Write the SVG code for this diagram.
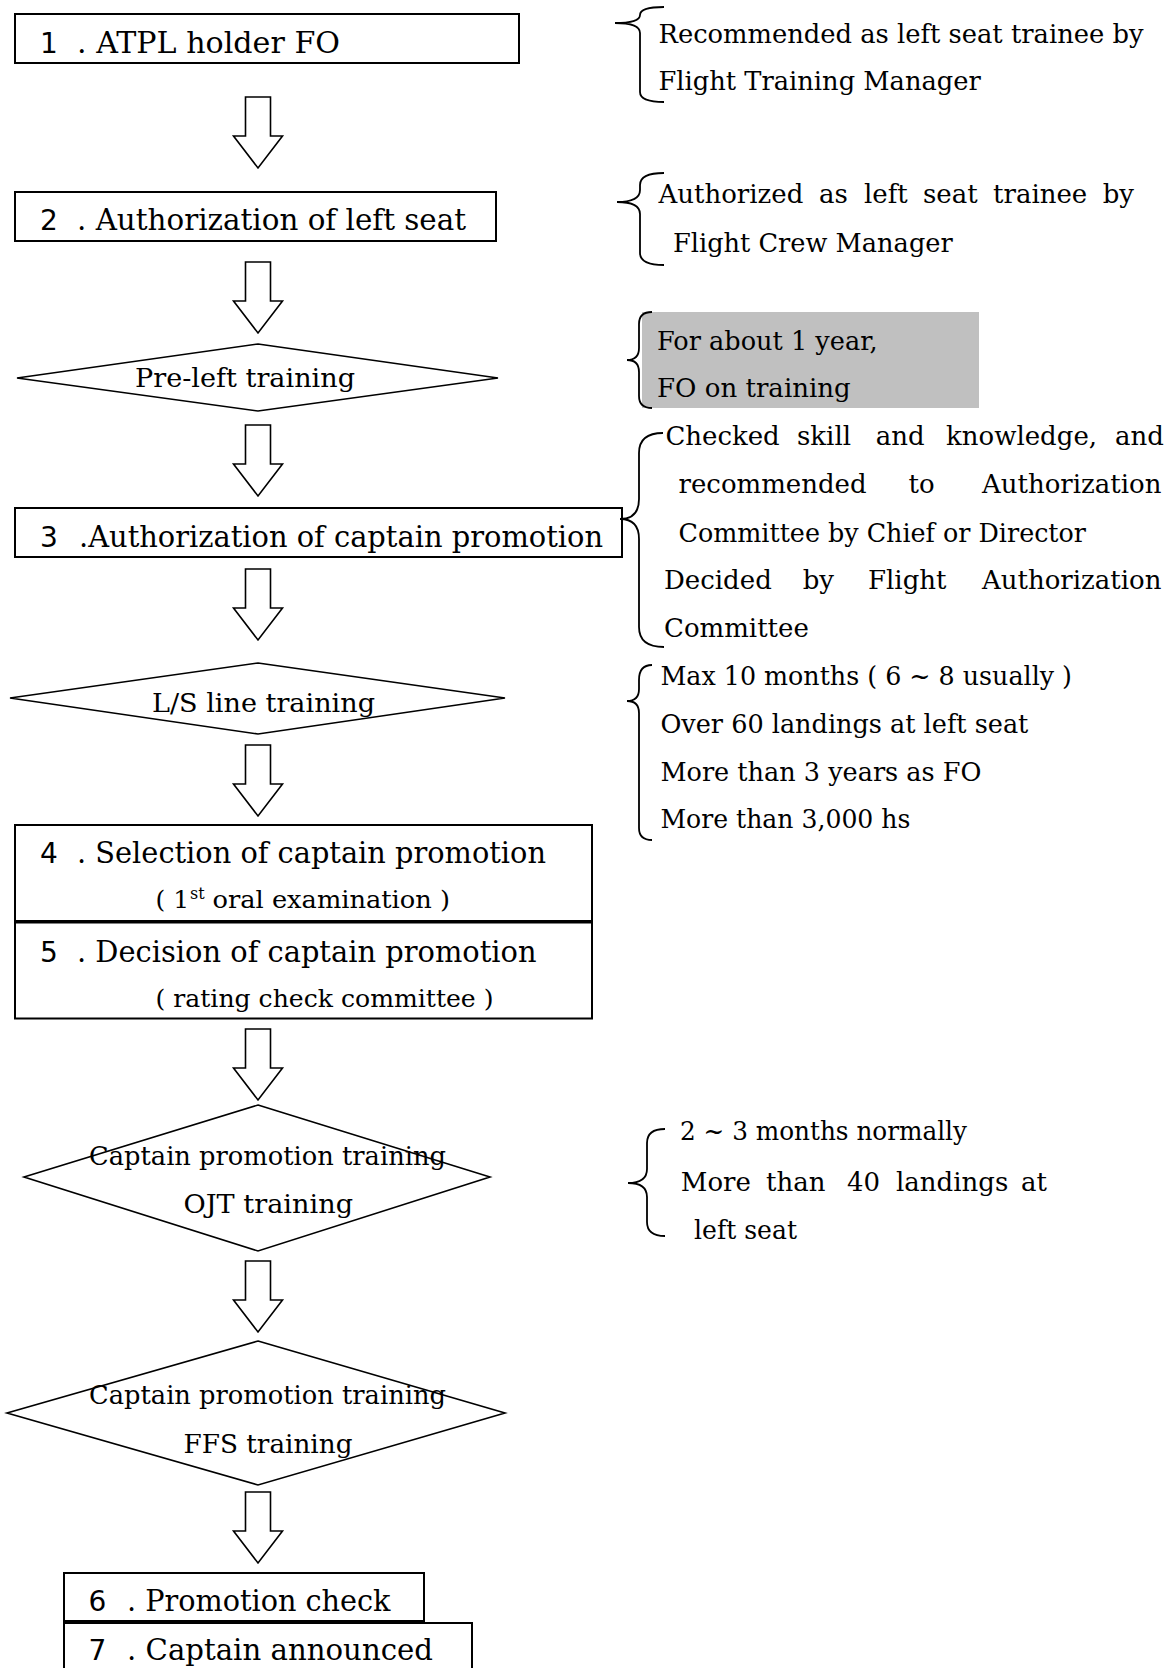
<svg xmlns="http://www.w3.org/2000/svg" width="1170" height="1668" viewBox="0 0 1170 1668">
<style>
.box{fill:#fff;stroke:#000;stroke-width:2}
.dia{fill:#fff;stroke:#000;stroke-width:1.6}
.arr{fill:#fff;stroke:#000;stroke-width:1.6;stroke-linejoin:miter}
.brace{fill:none;stroke:#000;stroke-width:1.8}
text{font-family:"DejaVu Serif","Liberation Serif",serif;fill:#000}
.num{font-family:"DejaVu Sans","Liberation Sans",sans-serif;font-size:28px}
.h{font-size:29.5px}
.p{font-size:25px}
.d{font-size:26.5px}
.n{font-size:26px}
.sup{font-size:16px}
</style>
<defs>
<path id="arrow" d="M-12.5,0 L12.5,0 L12.5,39 L24.5,39 L0,71 L-24.5,39 L-12.5,39 Z"/>
</defs>
<rect width="1170" height="1668" fill="#fff"/>

<g id="connectors">
<use href="#arrow" class="arr" transform="translate(258,97)"/>
<use href="#arrow" class="arr" transform="translate(258,262)"/>
<use href="#arrow" class="arr" transform="translate(258,425)"/>
<use href="#arrow" class="arr" transform="translate(258,569)"/>
<use href="#arrow" class="arr" transform="translate(258,745)"/>
<use href="#arrow" class="arr" transform="translate(258,1029)"/>
<use href="#arrow" class="arr" transform="translate(258,1261)"/>
<use href="#arrow" class="arr" transform="translate(258,1492)"/>
</g>

<g id="node1">
<rect class="box" x="15" y="14" width="504" height="49"/>
<text class="num" x="40" y="53">1</text>
<text class="h" x="77" y="53" textLength="263" lengthAdjust="spacingAndGlyphs">. ATPL holder FO</text>
</g>

<g id="node2">
<rect class="box" x="15" y="192" width="481" height="49"/>
<text class="num" x="40" y="230">2</text>
<text class="h" x="77" y="230" textLength="389" lengthAdjust="spacingAndGlyphs">. Authorization of left seat</text>
</g>

<g id="pre-left">
<polygon class="dia" points="258,344 498,378 258,411 17,378"/>
<text class="d" x="135" y="387" textLength="220" lengthAdjust="spacingAndGlyphs">Pre-left training</text>
</g>

<g id="node3">
<rect class="box" x="15" y="508" width="607" height="49"/>
<text class="num" x="40" y="547">3</text>
<text class="h" x="79" y="547" textLength="524" lengthAdjust="spacingAndGlyphs">.Authorization of captain promotion</text>
</g>

<g id="ls-line">
<polygon class="dia" points="258,663 505,698 258,734 10,698"/>
<text class="d" x="152" y="711.7" textLength="223" lengthAdjust="spacingAndGlyphs">L/S line training</text>
</g>

<g id="node4">
<rect class="box" x="15" y="825" width="577" height="96"/>
<text class="num" x="40" y="863">4</text>
<text class="h" x="77" y="863" textLength="469" lengthAdjust="spacingAndGlyphs">. Selection of captain promotion</text>
<text class="p" x="155.5" y="908">( 1</text>
<text class="sup" x="190" y="899">st</text>
<text class="p" x="212.5" y="908" textLength="237.5" lengthAdjust="spacingAndGlyphs">oral examination )</text>
</g>

<g id="node5">
<rect class="box" x="15" y="922.5" width="577" height="96"/>
<text class="num" x="40" y="962">5</text>
<text class="h" x="77" y="962" textLength="459.5" lengthAdjust="spacingAndGlyphs">. Decision of captain promotion</text>
<text class="p" x="155.5" y="1007" textLength="338" lengthAdjust="spacingAndGlyphs">( rating check committee )</text>
</g>

<g id="ojt">
<polygon class="dia" points="258,1105 490,1177 258,1251 24,1177"/>
<text class="d" x="89" y="1165" textLength="357" lengthAdjust="spacingAndGlyphs">Captain promotion training</text>
<text class="d" x="183.5" y="1213" textLength="169.5" lengthAdjust="spacingAndGlyphs">OJT training</text>
</g>

<g id="ffs">
<polygon class="dia" points="258,1341 505,1413 258,1485 7,1413"/>
<text class="d" x="89" y="1404" textLength="357" lengthAdjust="spacingAndGlyphs">Captain promotion training</text>
<text class="d" x="183.5" y="1453" textLength="169" lengthAdjust="spacingAndGlyphs">FFS training</text>
</g>

<g id="node6">
<rect class="box" x="64" y="1573" width="360" height="48"/>
<text class="num" x="88.5" y="1611">6</text>
<text class="h" x="127" y="1611" textLength="263.5" lengthAdjust="spacingAndGlyphs">. Promotion check</text>
</g>

<g id="node7">
<rect class="box" x="64" y="1623" width="408" height="60"/>
<text class="num" x="88.5" y="1660">7</text>
<text class="h" x="127" y="1660" textLength="306" lengthAdjust="spacingAndGlyphs">. Captain announced</text>
</g>

<g id="note1">
<path class="brace" d="M664,7 Q640,7 640,15 Q640,23 615,23 Q640,23 640,33 L640,92 Q640,102 664,102"/>
<text class="n" x="658.5" y="42.7" textLength="485" lengthAdjust="spacingAndGlyphs">Recommended as left seat trainee by</text>
<text class="n" x="658.5" y="90" textLength="322.3" lengthAdjust="spacingAndGlyphs">Flight Training Manager</text>
</g>

<g id="note2">
<path class="brace" d="M664,173 Q640,173 640,185 L640,190 Q640,202 617,202 Q640,202 640,214 L640,253 Q640,265 664,265"/>
<text class="n" y="203.3"><tspan x="658.5">Authorized</tspan> <tspan x="819">as</tspan> <tspan x="864">left</tspan> <tspan x="923">seat</tspan> <tspan x="993">trainee</tspan> <tspan x="1102.7">by</tspan></text>
<text class="n" x="673" y="251.7" textLength="279.7" lengthAdjust="spacingAndGlyphs">Flight Crew Manager</text>
</g>

<g id="note3">
<rect x="642" y="312" width="337" height="96" fill="#c0c0c0"/>
<path class="brace" d="M652,312 Q639,312 639,324 L639,348 Q639,360 627,360 Q639,360 639,372 L639,396 Q639,408 652,408"/>
<text class="n" x="657" y="349.5" textLength="220.7" lengthAdjust="spacingAndGlyphs">For about 1 year,</text>
<text class="n" x="657" y="396.7" textLength="193.8" lengthAdjust="spacingAndGlyphs">FO on training</text>
</g>

<g id="note4">
<path class="brace" d="M663,433 Q639,433 639,453 L639,499 Q639,519 620,519 Q639,519 639,539 L639,627 Q639,647 664,647"/>
<text class="n" y="445"><tspan x="665.4">Checked</tspan> <tspan x="797">skill</tspan> <tspan x="875.8">and</tspan> <tspan x="946">knowledge,</tspan> <tspan x="1115">and</tspan></text>
<text class="n" y="493"><tspan x="678.5">recommended</tspan> <tspan x="908.5">to</tspan> <tspan x="982">Authorization</tspan></text>
<text class="n" x="678.5" y="541.7" textLength="407.5" lengthAdjust="spacingAndGlyphs">Committee by Chief or Director</text>
<text class="n" y="589"><tspan x="664">Decided</tspan> <tspan x="802.7">by</tspan> <tspan x="868">Flight</tspan> <tspan x="982">Authorization</tspan></text>
<text class="n" x="664" y="637">Committee</text>
</g>

<g id="note5">
<path class="brace" d="M652,665 Q639,665 639,680 L639,689 Q639,701 627,701 Q639,701 639,713 L639,828 Q639,840 652,840"/>
<text class="n" x="660.4" y="685" textLength="411.6" lengthAdjust="spacingAndGlyphs">Max 10 months ( 6 ~ 8 usually )</text>
<text class="n" x="660.4" y="733.3" textLength="368" lengthAdjust="spacingAndGlyphs">Over 60 landings at left seat</text>
<text class="n" x="660.4" y="780.7" textLength="321" lengthAdjust="spacingAndGlyphs">More than 3 years as FO</text>
<text class="n" x="660.4" y="828.4" textLength="250" lengthAdjust="spacingAndGlyphs">More than 3,000 hs</text>
</g>

<g id="note6">
<path class="brace" d="M665,1129 Q647,1129 647,1143 L647,1169 Q647,1183 628,1183 Q647,1183 647,1197 L647,1222 Q647,1236 665,1236"/>
<text class="n" x="680" y="1140" textLength="287" lengthAdjust="spacingAndGlyphs">2 ~ 3 months normally</text>
<text class="n" y="1191"><tspan x="680.8">More</tspan> <tspan x="766">than</tspan> <tspan x="847">40</tspan> <tspan x="896">landings</tspan> <tspan x="1021">at</tspan></text>
<text class="n" x="694" y="1238.5" textLength="103" lengthAdjust="spacingAndGlyphs">left seat</text>
</g>
</svg>
